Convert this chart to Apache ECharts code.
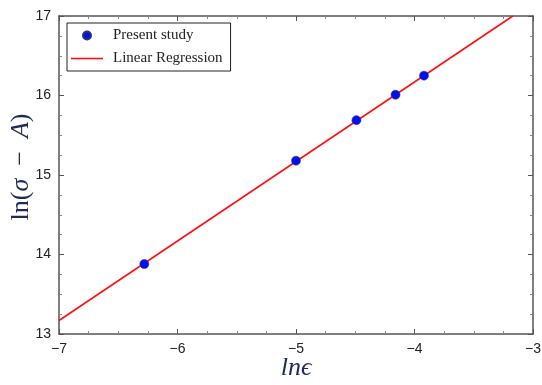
<!DOCTYPE html>
<html>
<head>
<meta charset="utf-8">
<script src="https://cdn.jsdelivr.net/npm/echarts@6/dist/echarts.min.js"></script>
<style>html,body{margin:0;padding:0;background:#fff}#c{width:542px;height:385px}</style>
</head>
<body>
<div id="c"></div>
<script>
// Data
var studyX = [-6.28, -5.00, -4.49, -4.16, -3.92];
var studyY = [13.88, 15.18, 15.69, 16.01, 16.25];
var regX = [-7, -3.17];
var regY = [13.17, 17];
var xTicks = [-7, -6, -5, -4, -3];
var yTicks = [13, 14, 15, 16, 17];

var chart = echarts.init(document.getElementById('c'), null, {renderer: 'canvas'});
var axisCol = '#555';
var labelCol = '#1f2a55';
function pairs(xs, ys){ return xs.map(function(x,i){ return [x, ys[i]]; }); }
var tickFont = {fontFamily: 'Liberation Sans, Arial, sans-serif', fontSize: 14, color: '#222'};
function axisBase(extra){
  var a = {
    type: 'value',
    axisLine: {show: true, onZero: false, lineStyle: {color: axisCol, width: 1.5}},
    axisTick: {show: true, inside: true, length: 5, lineStyle: {color: axisCol, width: 1}},
    minorTick: {show: true, splitNumber: 4, length: 3, lineStyle: {color: '#888', width: 1}},
    splitLine: {show: false},
    interval: 1
  };
  for (var k in extra) a[k] = extra[k];
  return a;
}
var option = {
  animation: false,
  backgroundColor: '#fff',
  grid: {left: 59, right: 9, top: 16, bottom: 51, containLabel: false, outerBoundsMode: 'none'},
  legend: {
    left: 67, top: 23, orient: 'vertical',
    borderColor: '#222', borderWidth: 1, borderRadius: 0,
    padding: [5, 8, 5, 4],
    itemWidth: 32, itemHeight: 8, itemGap: 8,
    symbolKeepAspect: true,
    textStyle: {fontFamily: 'Liberation Serif, Times New Roman, serif', fontSize: 15, color: '#222', padding: [0, 0, 0, 5]},
    data: [
      {name: 'Present study', icon: 'circle'},
      {name: 'Linear Regression', icon: 'path://M0,0H20V1H0Z'}
    ]
  },
  xAxis: [
    axisBase({min: -7, max: -3, position: 'bottom',
      axisLabel: Object.assign({margin: 8, formatter: function(v){ return String(v).replace('-', '\u2212'); }}, tickFont),
      name: 'lnϵ', nameLocation: 'middle', nameGap: 21, nameMoveOverlap: false,
      nameTextStyle: {fontFamily: 'Liberation Serif, DejaVu Serif, serif', fontStyle: 'italic', fontSize: 26, color: labelCol}
    }),
    axisBase({min: -7, max: -3, position: 'top', axisLabel: {show: false}})
  ],
  yAxis: [
    axisBase({min: 13, max: 17, position: 'left',
      axisLabel: Object.assign({margin: 8}, tickFont),
      name: '{n|ln(}{i|σ}{n|\u2002−\u2002}{i|A}{n|)}', nameLocation: 'middle', nameGap: 25, nameRotate: 90, nameMoveOverlap: false,
      nameTextStyle: {
        color: labelCol,
        padding: [0, 0, 0, 16],
        rich: {
          n: {fontFamily: 'Liberation Serif, DejaVu Serif, serif', fontSize: 26, color: labelCol},
          i: {fontFamily: 'Liberation Serif, DejaVu Serif, serif', fontSize: 26, fontStyle: 'italic', color: labelCol}
        }
      }
    }),
    axisBase({min: 13, max: 17, position: 'right', axisLabel: {show: false}})
  ],
  series: [
    {
      name: 'Linear Regression', type: 'line', data: pairs(regX, regY),
      showSymbol: false, symbol: 'none',
      lineStyle: {color: '#ff1010', width: 1.6},
      itemStyle: {color: '#ff1010'}, z: 2
    },
    {
      name: 'Present study', type: 'scatter', data: pairs(studyX, studyY),
      symbolSize: 9,
      itemStyle: {color: '#0010f0', borderColor: '#333366', borderWidth: 0.6, opacity: 1}, z: 3
    }
  ]
};
chart.setOption(option);
</script>
</body>
</html>
